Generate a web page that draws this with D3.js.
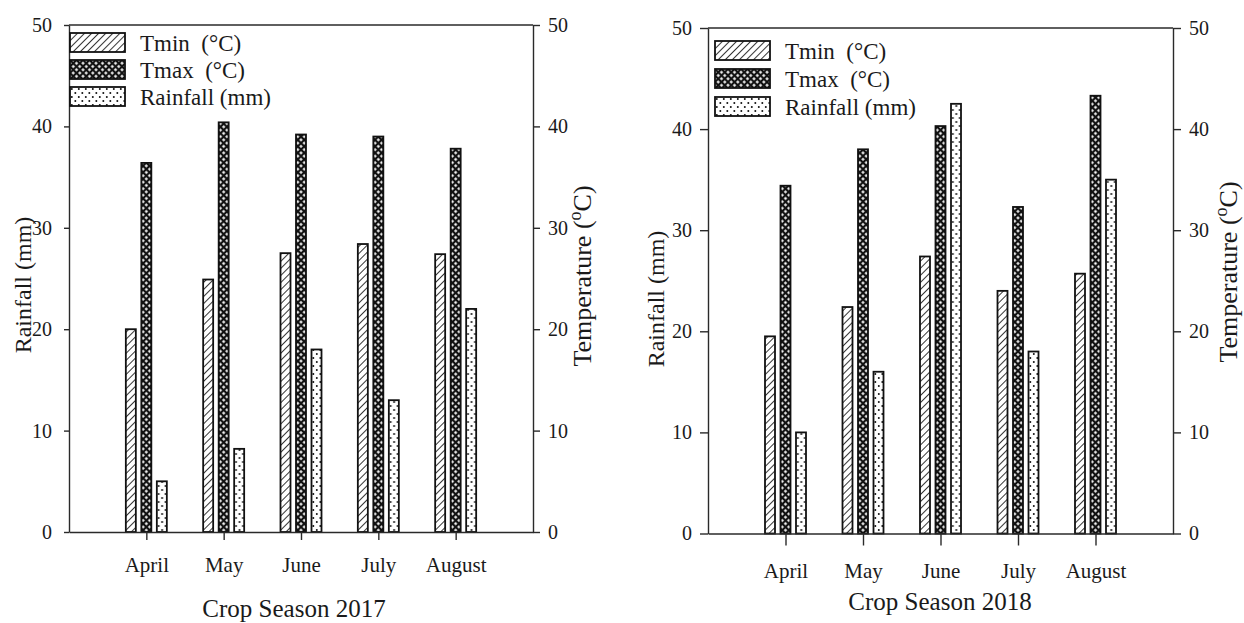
<!DOCTYPE html>
<html>
<head>
<meta charset="utf-8">
<script src="https://cdn.jsdelivr.net/npm/d3@7"></script>
<style>
  body { margin: 0; background: #fff; }
  text { font-family: "Liberation Serif", "Times New Roman", serif; }
</style>
</head>
<body>
<script>
const months = ["April", "May", "June", "July", "August"];
const seriesNames = ["Tmin  (°C)", "Tmax  (°C)", "Rainfall (mm)"];
const yTicks = [0, 10, 20, 30, 40, 50];

const tmin2017 = [20.0, 24.9, 27.5, 28.4, 27.4];
const tmax2017 = [36.4, 40.4, 39.2, 39.0, 37.8];
const rain2017 = [5.0, 8.2, 18.0, 13.0, 22.0];

const tmin2018 = [19.5, 22.4, 27.4, 24.0, 25.7];
const tmax2018 = [34.4, 38.0, 40.3, 32.3, 43.3];
const rain2018 = [10.0, 16.0, 42.5, 18.0, 35.0];

const W = 1244, H = 623;
const ink = "#111";

const svg = d3.select("body").append("svg")
  .attr("width", W)
  .attr("height", H);

svg.append("rect").attr("width", W).attr("height", H).attr("fill", "#fff");

// fill patterns
const defs = svg.append("defs");

const hatch = defs.append("pattern")
  .attr("id", "hatch")
  .attr("patternUnits", "userSpaceOnUse")
  .attr("width", 5).attr("height", 5)
  .attr("patternTransform", "rotate(45)");
hatch.append("rect").attr("width", 5).attr("height", 5).attr("fill", "#fff");
hatch.append("line")
  .attr("x1", 0).attr("y1", 0).attr("x2", 0).attr("y2", 5)
  .attr("stroke", ink).attr("stroke-width", 1.7);

const cross = defs.append("pattern")
  .attr("id", "cross")
  .attr("patternUnits", "userSpaceOnUse")
  .attr("width", 4.6).attr("height", 4.6)
  .attr("patternTransform", "rotate(45)");
cross.append("rect").attr("width", 4.6).attr("height", 4.6).attr("fill", "#fff");
cross.append("path")
  .attr("d", "M0,0V4.6M4.6,0V4.6M0,0H4.6M0,4.6H4.6")
  .attr("stroke", ink).attr("stroke-width", 2.2);

const dots = defs.append("pattern")
  .attr("id", "dots")
  .attr("patternUnits", "userSpaceOnUse")
  .attr("width", 7).attr("height", 8);
dots.append("rect").attr("width", 7).attr("height", 8).attr("fill", "#fff");
dots.append("circle").attr("cx", 1.8).attr("cy", 2).attr("r", 1).attr("fill", ink);
dots.append("circle").attr("cx", 5.3).attr("cy", 6).attr("r", 1).attr("fill", ink);

const fills = ["url(#hatch)", "url(#cross)", "url(#dots)"];

function drawPanel(cfg, tmin, tmax, rain) {
  const g = svg.append("g");

  const x = d3.scalePoint().domain(months).range([cfg.x0, cfg.x1]).padding(1);
  const y = d3.scaleLinear().domain([0, 50]).range([cfg.yBase, cfg.yTop]);
  const sub = d3.scaleBand().domain(seriesNames).range([-20.5, 20.5]).paddingInner(0.355);

  const rows = months.map((m, i) => ({ month: m, vals: [tmin[i], tmax[i], rain[i]] }));

  // bars
  const grp = g.selectAll("g.month").data(rows).join("g")
    .attr("class", "month")
    .attr("transform", d => `translate(${x(d.month)},0)`);
  grp.selectAll("rect")
    .data(d => d.vals.map((v, k) => ({ v, k })))
    .join("rect")
    .attr("x", d => sub(seriesNames[d.k]))
    .attr("width", sub.bandwidth())
    .attr("y", d => y(d.v))
    .attr("height", d => y(0) - y(d.v))
    .attr("fill", d => fills[d.k])
    .attr("stroke", ink)
    .attr("stroke-width", 1.8);

  // axes
  const axL = g.append("g")
    .attr("transform", `translate(${cfg.x0},0)`)
    .call(d3.axisLeft(y).tickValues(yTicks).tickSize(cfg.tickL).tickPadding(cfg.padL).tickSizeOuter(0));
  const axR = g.append("g")
    .attr("transform", `translate(${cfg.x1},0)`)
    .call(d3.axisRight(y).tickValues(yTicks).tickSize(cfg.tickR).tickPadding(8).tickSizeOuter(0));
  const axB = g.append("g")
    .attr("transform", `translate(0,${cfg.yBase})`)
    .call(d3.axisBottom(x).tickSize(cfg.tickB).tickPadding(cfg.padB).tickSizeOuter(0));

  [axL, axR, axB].forEach(a => {
    a.style("color", "#2a2a2a").attr("font-family", null).attr("font-size", null);
    a.selectAll("path, line").attr("stroke-width", 1.4);
    a.selectAll("text").style("font-size", "20px").style("fill", "#1a1a1a");
  });
  axB.selectAll("text").style("font-size", "21px");

  // top frame line
  g.append("line")
    .attr("x1", cfg.x0).attr("x2", cfg.x1)
    .attr("y1", cfg.yTop).attr("y2", cfg.yTop)
    .attr("stroke", "#2a2a2a").attr("stroke-width", 1.4);

  // titles
  g.append("text")
    .attr("x", cfg.titleX).attr("y", cfg.titleY)
    .attr("text-anchor", "middle")
    .style("font-size", "25px").style("fill", "#1a1a1a")
    .text(cfg.title);

  g.append("text")
    .attr("transform", `translate(${cfg.rainX},${cfg.rainY}) rotate(-90)`)
    .attr("text-anchor", "middle")
    .style("font-size", "24px").style("fill", "#1a1a1a")
    .text("Rainfall (mm)");

  const tt = g.append("text")
    .attr("transform", `translate(${cfg.tempX},${cfg.tempY}) rotate(-90)`)
    .attr("text-anchor", "middle")
    .style("font-size", "26px").style("fill", "#1a1a1a");
  tt.append("tspan").text("Temperature (");
  tt.append("tspan").attr("dy", -10).style("font-size", "18px").text("o");
  tt.append("tspan").attr("dy", 10).text("C)");

  // legend
  const leg = g.append("g")
    .attr("transform", `translate(${cfg.legX},${cfg.legY})`);
  const items = leg.selectAll("g").data(seriesNames).join("g")
    .attr("transform", (d, i) => `translate(0,${i * cfg.legStep})`);
  items.append("rect")
    .attr("width", 55).attr("height", 19)
    .attr("fill", (d, i) => fills[i])
    .attr("stroke", ink).attr("stroke-width", 1.8);
  items.append("text")
    .attr("x", 70).attr("y", cfg.legBase)
    .attr("xml:space", "preserve")
    .style("white-space", "pre")
    .style("font-size", "23px").style("fill", "#1a1a1a")
    .text(d => d);
}

drawPanel({
  x0: 69, x1: 533, yTop: 25, yBase: 532,
  tickL: 5, padL: 12, tickR: 7, tickB: 8, padB: 17,
  title: "Crop Season 2017", titleX: 294, titleY: 617,
  rainX: 31, rainY: 285, tempX: 591, tempY: 276,
  legX: 70, legY: 33, legStep: 27, legBase: 18
}, tmin2017, tmax2017, rain2017);

drawPanel({
  x0: 708, x1: 1173, yTop: 28, yBase: 533.5,
  tickL: 8, padL: 8, tickR: 8, tickB: 12, padB: 18,
  title: "Crop Season 2018", titleX: 940, titleY: 610,
  rainX: 664, rainY: 299, tempX: 1237, tempY: 272,
  legX: 715, legY: 41, legStep: 28, legBase: 18
}, tmin2018, tmax2018, rain2018);
</script>
</body>
</html>
